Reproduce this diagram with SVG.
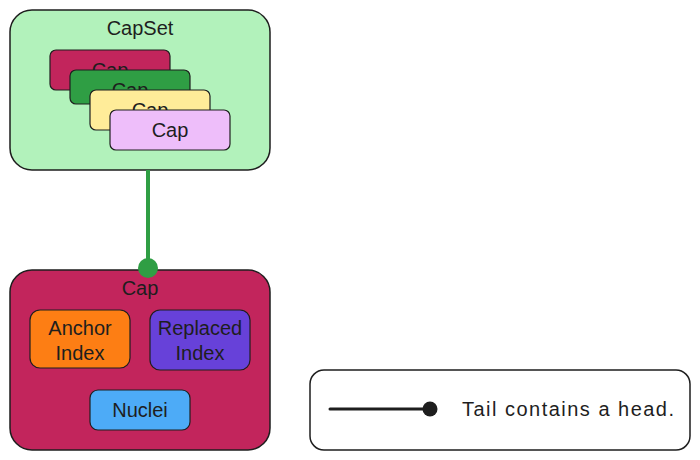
<svg xmlns="http://www.w3.org/2000/svg" width="700" height="460" viewBox="0 0 700 460">
<defs>
<style>
.box{stroke:#1e1e1e;stroke-width:1.5;}
.card{stroke:#1e1e1e;stroke-width:1.2;}
text{font-family:"Liberation Sans",Arial,sans-serif;font-size:20px;fill:#1e1e1e;text-anchor:middle;dominant-baseline:central;}
</style>
</defs>
<rect width="700" height="460" fill="#ffffff"/>
<g id="capset">
<rect class="box" x="10" y="10" width="260" height="160" rx="22" fill="#b2f2bb"/>
<text x="140" y="28">CapSet</text>
</g>
<g id="cap-red">
<rect class="card" x="50" y="50" width="120" height="40" rx="6" fill="#c2255c"/>
<text x="110" y="70">Cap</text>
</g>
<g id="cap-green">
<rect class="card" x="70" y="70" width="120" height="34" rx="6" fill="#2f9e44"/>
<text x="130" y="90">Cap</text>
</g>
<g id="cap-yellow">
<rect class="card" x="90" y="90" width="120" height="40" rx="6" fill="#ffec99"/>
<text x="150" y="110">Cap</text>
</g>
<g id="cap-pink">
<rect class="card" x="110" y="110" width="120" height="40" rx="6" fill="#eebefa"/>
<text x="170" y="130">Cap</text>
</g>
<g id="cap">
<rect class="box" x="10" y="270" width="260" height="180" rx="22" fill="#c2255c"/>
<text x="140" y="288">Cap</text>
</g>
<g id="anchor-index">
<rect class="card" x="30" y="310" width="100" height="58" rx="10" fill="#fd7e14"/>
<text x="80" y="328">Anchor</text>
<text x="80" y="353">Index</text>
</g>
<g id="replaced-index">
<rect class="card" x="150" y="310" width="100" height="60" rx="10" fill="#6741d9"/>
<text x="200" y="328">Replaced</text>
<text x="200" y="353">Index</text>
</g>
<g id="nuclei">
<rect class="card" x="90" y="390" width="100" height="40" rx="8" fill="#4dabf7"/>
<text x="140" y="410">Nuclei</text>
</g>
<g id="legend">
<rect class="box" x="310" y="370" width="380" height="80" rx="14" fill="#ffffff"/>
<line x1="330" y1="409" x2="428" y2="409" stroke="#1e1e1e" stroke-width="3" stroke-linecap="round"/>
<circle cx="430" cy="409" r="7.5" fill="#1e1e1e"/>
<text x="462" y="409" style="text-anchor:start" textLength="212" lengthAdjust="spacing">Tail contains a head.</text>
</g>
<g id="connectors">
<line x1="148" y1="170" x2="148" y2="266" stroke="#2f9e44" stroke-width="4"/>
<circle cx="148" cy="268" r="10" fill="#2f9e44"/>
</g>
</svg>
